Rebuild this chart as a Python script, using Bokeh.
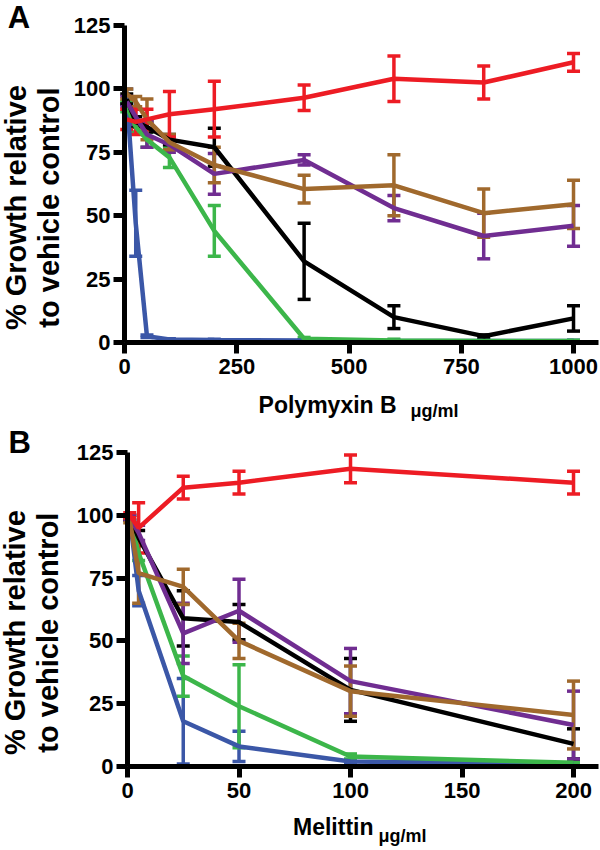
import math
from bokeh.plotting import figure
from bokeh.models import ColumnDataSource, Whisker, TeeHead, FixedTicker, Label, Range1d
from bokeh.layouts import column
from bokeh.embed import file_html
from bokeh.resources import INLINE

FONT = "Liberation Sans"

# ---------------- data: panel A (Polymyxin B, ug/ml) ----------------
a_x = [5, 25, 50, 100, 200, 400, 600, 800, 1000]
a_blue = [97, 47, 2.5, 1.2, 1.0, 0.8, 0.6, 0.6, 0.6]
a_blue_err = [3, 13, 0.5, 0.3, 0.3, 0.3, 0.3, 0.3, 0.3]
a_green = [93, 85, 80, 73, 44, 1.5, 0.8, 0.6, 0.6]
a_green_err = [2, 2, 3, 4, 10, 0.5, 0.5, 0.3, 0.3]
a_black = [96, 87, 85, 80, 77, 32, 10, 2.5, 9.5]
a_black_err = [2, 2, 2, 2, 7.5, 15, 4.5, 0.5, 5]
a_purple = [95, 89, 82, 78, 66.5, 72, 53, 42, 46]
a_purple_err = [2, 3, 5, 3, 8, 2, 5, 9, 8]
a_brown = [98, 95, 88, 79, 70, 60.5, 62, 51, 54.5]
a_brown_err = [2, 2, 8, 3, 7, 5.5, 12, 9.5, 9.5]
a_red = [88, 87, 88, 90, 92, 96.5, 104, 102.5, 110.5]
a_red_err = [4, 5, 4, 9, 11, 5, 9, 6.5, 3.5]
a_xticks = [0, 250, 500, 750, 1000]

# ---------------- data: panel B (Melittin, ug/ml) ----------------
b_x = [1, 5, 25, 50, 100, 200]
b_blue = [99, 70, 18, 8, 2, 1]
b_blue_err = [1, 6, 17, 6, 0.5, 0.5]
b_green = [99, 85, 36, 24, 4, 1.5]
b_green_err = [1, 3, 8, 16.5, 1, 0.5]
b_black = [99, 91, 59, 57.5, 30.5, 9]
b_black_err = [1, 3, 11, 7, 12.5, 6]
b_purple = [99, 93, 53, 62, 34, 16.5]
b_purple_err = [1, 3, 12, 12.5, 13, 13.5]
b_brown = [98, 77, 71.5, 50, 30, 20.5]
b_brown_err = [1, 12, 7, 7, 10, 13.5]
b_red = [100, 95, 111, 113, 118.5, 113]
b_red_err = [1, 10, 4.5, 4.5, 5.5, 4.5]
b_xticks = [0, 50, 100, 150, 200]

y_ticks = [0, 25, 50, 75, 100, 125]

colors = {
    "blue": "#3B57A7",
    "green": "#3CB64A",
    "black": "#000000",
    "purple": "#702D91",
    "brown": "#A0692D",
    "red": "#ED1C24",
}


def make_fig(w, h, xr, yr, xbounds, xticks):
    p = figure(width=w, height=h, output_backend="svg", toolbar_location=None,
               x_range=Range1d(*xr), y_range=Range1d(*yr),
               min_border=0, min_border_left=0, min_border_right=0,
               min_border_top=0, min_border_bottom=0)
    p.outline_line_color = None
    p.xgrid.grid_line_color = None
    p.ygrid.grid_line_color = None
    p.xaxis.fixed_location = 0
    p.yaxis.fixed_location = 0
    p.xaxis.bounds = xbounds
    p.yaxis.bounds = (0, 125)
    p.xaxis.ticker = FixedTicker(ticks=xticks)
    p.yaxis.ticker = FixedTicker(ticks=y_ticks)
    for ax in (p.xaxis, p.yaxis):
        ax.axis_line_width = 5
        ax.axis_line_color = "black"
        ax.major_tick_line_width = 5
        ax.major_tick_line_color = "black"
        ax.major_tick_out = 11
        ax.major_tick_in = 0
        ax.minor_tick_line_color = None
        ax.major_label_text_font = FONT
        ax.major_label_text_font_style = "bold"
        ax.major_label_text_font_size = "22px"
        ax.major_label_text_color = "black"
    p.xaxis.major_label_standoff = 5
    p.yaxis.major_label_standoff = 3
    return p


def add_series(p, xs, ys, errs, color):
    src = ColumnDataSource(dict(
        x=xs, y=ys,
        upper=[v + e for v, e in zip(ys, errs)],
        lower=[v - e for v, e in zip(ys, errs)],
    ))
    w = Whisker(source=src, base="x", upper="upper", lower="lower",
                line_color=color, line_width=3.5,
                upper_head=TeeHead(size=13, line_color=color, line_width=3.5),
                lower_head=TeeHead(size=13, line_color=color, line_width=3.5))
    p.add_layout(w)
    p.line("x", "y", source=src, line_color=color, line_width=4.5)


def lab(p, x, y, text, size, align="left", angle=0.0):
    p.add_layout(Label(x=x, y=y, text=text, text_font=FONT, text_font_style="bold",
                       text_font_size=size, text_align=align,
                       text_baseline="alphabetic", angle=angle, text_color="black"))


# ---------------- panel A (canvas = page rows 0..424) ----------------
pa = make_fig(600, 424, (-276.2, 1060.1), (-32.33, 134.86), (0, 1055), a_xticks)
for name, ys, es in [("blue", a_blue, a_blue_err), ("green", a_green, a_green_err),
                     ("black", a_black, a_black_err), ("purple", a_purple, a_purple_err),
                     ("brown", a_brown, a_brown_err), ("red", a_red, a_red_err)]:
    add_series(pa, a_x, ys, es, colors[name])

lab(pa, -241.5, 53.2, "% Growth relative", "29px", "center", math.pi / 2)
lab(pa, -168.0, 53.2, "to vehicle control", "29px", "center", math.pi / 2)
lab(pa, -260, 128.15, "A", "31px")
lab(pa, 606, -24.8, "Polymyxin B", "23px", "right")
lab(pa, 637, -27.2, "μg/ml", "18px", "left")

# ---------------- panel B (canvas = page rows 424..848) ----------------
pb = make_fig(600, 424, (-56.95, 212.1), (-32.64, 136.15), (0, 211), b_xticks)
for name, ys, es in [("blue", b_blue, b_blue_err), ("green", b_green, b_green_err),
                     ("black", b_black, b_black_err), ("purple", b_purple, b_purple_err),
                     ("brown", b_brown, b_brown_err), ("red", b_red, b_red_err)]:
    add_series(pb, b_x, ys, es, colors[name])

lab(pb, -50.3, 53.3, "% Growth relative", "29px", "center", math.pi / 2)
lab(pb, -35.5, 53.3, "to vehicle control", "29px", "center", math.pi / 2)
lab(pb, -53.4, 129.0, "B", "31px")
lab(pb, 110.3, -23.9, "Melittin", "23px", "right")
lab(pb, 112.6, -27.5, "μg/ml", "18px", "left")

layout = column(pa, pb, spacing=0)
open("out.html", "w").write(file_html(layout, INLINE))
